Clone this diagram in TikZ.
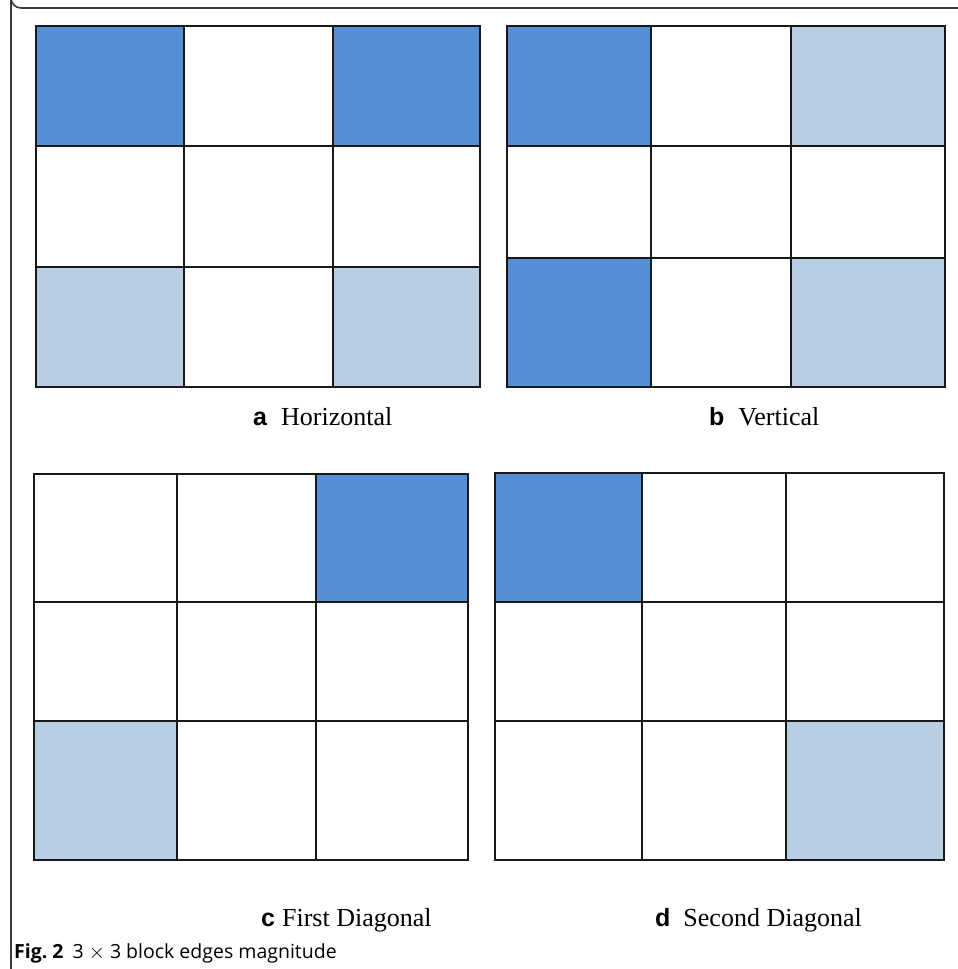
\documentclass[tikz,border=0pt]{standalone}
\usepackage{fontspec}
\setmainfont{Liberation Serif}
\newfontfamily\labfont{Liberation Sans}
\newfontfamily\capfont{Open Sans}
\definecolor{darkcell}{HTML}{558ED5}
\definecolor{lightcell}{HTML}{B9CDE5}
\definecolor{framegray}{HTML}{3A3A3A}
\tikzset{
  gridline/.style={draw=black!90, line width=2pt},
  dcell/.style={fill=darkcell},
  lcell/.style={fill=lightcell},
  sublabel/.style={anchor=base west, inner sep=0pt, font=\fontsize{26}{30}\selectfont},
  captext/.style={anchor=base west, inner sep=0pt, font=\capfont\fontsize{19.5}{23}\selectfont},
}
\newcommand{\grida}[8]{% x0 x1 x2 x3 y0 y1 y2 y3
  \draw[gridline] (#1,#5) rectangle (#4,#8);
  \draw[gridline] (#2,#5) -- (#2,#8) (#3,#5) -- (#3,#8) (#1,#6) -- (#4,#6) (#1,#7) -- (#4,#7);
}
\begin{document}
\begin{tikzpicture}[x=1pt,y=-1pt]
\useasboundingbox (0,0) rectangle (958,969);
% frame
\draw[framegray, line width=1.6pt] (958,8) -- (21,8) arc[start angle=90, end angle=180, radius=10] -- (11,969);
% grid a
\fill[dcell] (36,26) rectangle (184,146);
\fill[dcell] (333,26) rectangle (480,146);
\fill[lcell] (36,267) rectangle (184,387);
\fill[lcell] (333,267) rectangle (480,387);
\grida{36}{184}{333}{480}{26}{146}{267}{387}
% grid b
\fill[dcell] (507,26) rectangle (651,146);
\fill[lcell] (791,26) rectangle (945,146);
\fill[dcell] (507,258) rectangle (651,387);
\fill[lcell] (791,258) rectangle (945,387);
\grida{507}{651}{791}{945}{26}{146}{258}{387}
% grid c
\fill[dcell] (316,474) rectangle (468,602);
\fill[lcell] (34,721) rectangle (177,860);
\grida{34}{177}{316}{468}{474}{602}{721}{860}
% grid d
\fill[dcell] (495,473) rectangle (642,602);
\fill[lcell] (786,721) rectangle (944,860);
\grida{495}{642}{786}{944}{473}{602}{721}{860}
% labels
\node[sublabel] (la) at (253,425) {{\labfont\bfseries\fontsize{25}{30}\selectfont a}\hspace{14pt}Horizontal};
\node[sublabel] (lb) at (709,425) {{\labfont\bfseries\fontsize{25}{30}\selectfont b}\hspace{14pt}Vertical};
\node[sublabel] (lc) at (261,926) {{\labfont\bfseries\fontsize{25}{30}\selectfont c}\hspace{7pt}First Diagonal};
\node[sublabel] (ld) at (655,926) {{\labfont\bfseries\fontsize{25}{30}\selectfont d}\hspace{13pt}Second Diagonal};
\node[captext] (cap) at (14,958) {\textbf{Fig.~2}\hspace{9pt}3 $\times$ 3 block edges magnitude};
\end{tikzpicture}
\end{document}
